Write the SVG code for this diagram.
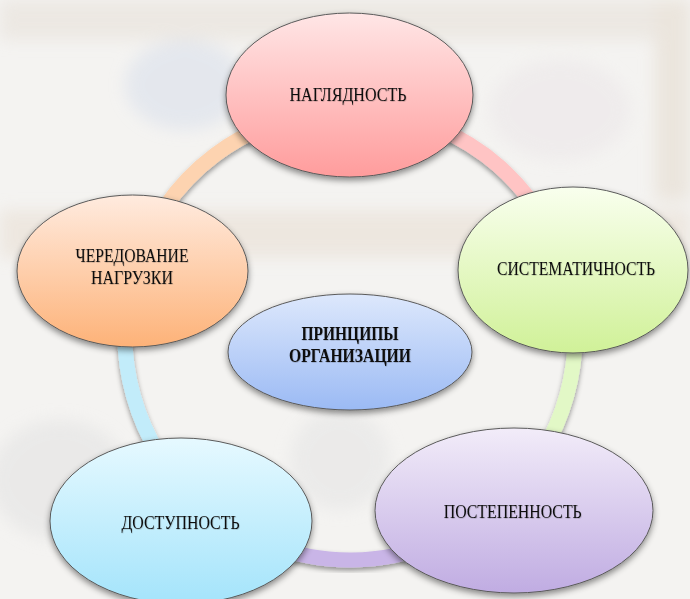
<svg xmlns="http://www.w3.org/2000/svg" width="690" height="599" viewBox="0 0 690 599">
<defs>
<linearGradient id="gTop" x1="0" y1="0" x2="0" y2="1"><stop offset="0" stop-color="#ffe6e6"/><stop offset="1" stop-color="#ff9c9c"/></linearGradient>
<linearGradient id="gRight" x1="0" y1="0" x2="0" y2="1"><stop offset="0" stop-color="#f9ffee"/><stop offset="1" stop-color="#d0f198"/></linearGradient>
<linearGradient id="gLeft" x1="0" y1="0" x2="0" y2="1"><stop offset="0" stop-color="#ffebdf"/><stop offset="1" stop-color="#fdb278"/></linearGradient>
<linearGradient id="gCenter" x1="0" y1="0" x2="0" y2="1"><stop offset="0" stop-color="#dde8fc"/><stop offset="1" stop-color="#9bbaf4"/></linearGradient>
<linearGradient id="gBL" x1="0" y1="0" x2="0" y2="1"><stop offset="0" stop-color="#e6f9ff"/><stop offset="1" stop-color="#a4e4fb"/></linearGradient>
<linearGradient id="gBR" x1="0" y1="0" x2="0" y2="1"><stop offset="0" stop-color="#f2ecf9"/><stop offset="1" stop-color="#c0ace2"/></linearGradient>
<filter id="sh" x="-20%" y="-20%" width="140%" height="150%"><feDropShadow dx="0" dy="3" stdDeviation="3" flood-color="#000" flood-opacity="0.45"/></filter>
<filter id="shr" x="-20%" y="-20%" width="140%" height="140%"><feDropShadow dx="0" dy="3" stdDeviation="2.5" flood-color="#000" flood-opacity="0.4"/></filter>
<filter id="ts" x="-10%" y="-30%" width="120%" height="160%"><feDropShadow dx="0.5" dy="0.6" stdDeviation="0.5" flood-color="#000" flood-opacity="0.25"/></filter>
<filter id="blur" x="-10%" y="-10%" width="120%" height="120%"><feGaussianBlur stdDeviation="8"/></filter>
</defs>
<style>
.node ellipse{stroke:#5a5a5a;stroke-width:1;filter:url(#sh)}
.lbl{font-family:"Liberation Serif","Times New Roman",serif;font-size:19px;fill:#111;text-anchor:middle;filter:url(#ts)}
.b{font-weight:bold}
.ring path{fill:none;stroke-width:15;filter:url(#shr)}
</style>
<g id="background">
<rect width="690" height="599" fill="#f4f3f1"/>
<g filter="url(#blur)" opacity="0.55">
<rect x="0" y="0" width="690" height="40" fill="#e6e0d8"/>
<ellipse cx="185" cy="85" rx="60" ry="45" fill="#d8dfeb"/>
<rect x="0" y="210" width="690" height="48" fill="#e8ded2"/>
<rect x="655" y="0" width="35" height="200" fill="#e4dacd"/>
<ellipse cx="60" cy="480" rx="70" ry="60" fill="#e2e2e2"/>
<ellipse cx="340" cy="460" rx="50" ry="50" fill="#e4e4e4"/>
<ellipse cx="560" cy="110" rx="70" ry="50" fill="#ebe6e8"/>
</g>
</g>
<g id="connectors" class="ring">
<path d="M350,110 A225,225 0 0 1 566.3,273" stroke="#ffc4c4"/>
<path d="M566.3,273 A225,225 0 0 1 503.4,499.6" stroke="#e2f8c6"/>
<path d="M503.4,499.6 A225,225 0 0 1 199.4,502.2" stroke="#c9b5e7"/>
<path d="M199.4,502.2 A225,225 0 0 1 134.2,271.5" stroke="#c2ecfa"/>
<path d="M134.2,271.5 A225,225 0 0 1 350,110" stroke="#fdd3b0"/>
</g>
<g id="node-naglyadnost" class="node">
<ellipse cx="349.5" cy="95" rx="123.5" ry="82" fill="url(#gTop)"/>
<text class="lbl" x="348" y="101" textLength="117" lengthAdjust="spacingAndGlyphs">НАГЛЯДНОСТЬ</text>
</g>
<g id="node-sistematichnost" class="node">
<ellipse cx="573" cy="270" rx="115" ry="83" fill="url(#gRight)"/>
<text class="lbl" x="576" y="275" textLength="158" lengthAdjust="spacingAndGlyphs">СИСТЕМАТИЧНОСТЬ</text>
</g>
<g id="node-cheredovanie" class="node">
<ellipse cx="132.5" cy="271" rx="115.5" ry="76" fill="url(#gLeft)"/>
<text class="lbl" x="132" y="262" textLength="113" lengthAdjust="spacingAndGlyphs">ЧЕРЕДОВАНИЕ</text>
<text class="lbl" x="132" y="283.5" textLength="82" lengthAdjust="spacingAndGlyphs">НАГРУЗКИ</text>
</g>
<g id="node-principy" class="node">
<ellipse cx="350" cy="352" rx="122" ry="58" fill="url(#gCenter)"/>
<text class="lbl b" x="350" y="340" textLength="97" lengthAdjust="spacingAndGlyphs">ПРИНЦИПЫ</text>
<text class="lbl b" x="350" y="362" textLength="122" lengthAdjust="spacingAndGlyphs">ОРГАНИЗАЦИИ</text>
</g>
<g id="node-dostupnost" class="node">
<ellipse cx="181" cy="521" rx="131" ry="83" fill="url(#gBL)"/>
<text class="lbl" x="180.5" y="528.5" textLength="118" lengthAdjust="spacingAndGlyphs">ДОСТУПНОСТЬ</text>
</g>
<g id="node-postepennost" class="node">
<ellipse cx="514" cy="510.5" rx="139" ry="82.5" fill="url(#gBR)"/>
<text class="lbl" x="512.7" y="517.5" textLength="138" lengthAdjust="spacingAndGlyphs">ПОСТЕПЕННОСТЬ</text>
</g>
</svg>
